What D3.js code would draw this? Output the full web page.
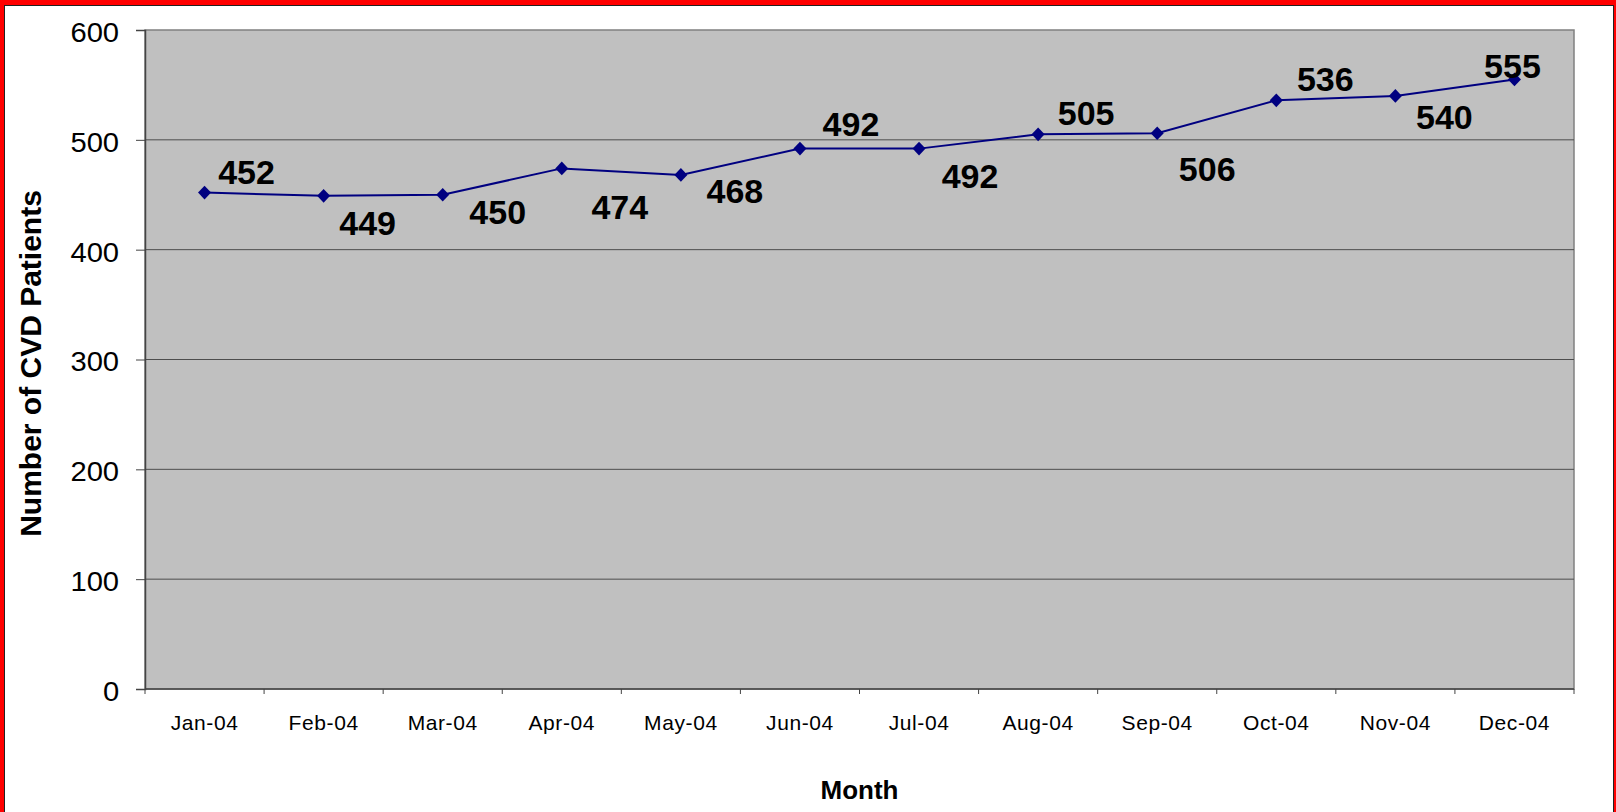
<!DOCTYPE html>
<html>
<head>
<meta charset="utf-8">
<script src="https://cdn.jsdelivr.net/npm/d3@7"></script>
<style>
  html, body { margin: 0; padding: 0; background: #ff0000; overflow: hidden; }
  svg { display: block; font-family: "Liberation Sans", Arial, sans-serif; }
</style>
</head>
<body>
<svg width="1616" height="812"></svg>
<script>
// monthly CVD patient counts, 2004
const months = ["Jan-04", "Feb-04", "Mar-04", "Apr-04", "May-04", "Jun-04",
                "Jul-04", "Aug-04", "Sep-04", "Oct-04", "Nov-04", "Dec-04"]
const patients = [452, 449, 450, 474, 468, 492, 492, 505, 506, 536, 540, 555]
const yTicks = [0, 100, 200, 300, 400, 500, 600]

// where each value label sits relative to its point (px)
const labelDx = [42, 44, 55, 58, 54, 51, 51, 48, 50, 49, 49, -2]
const labelDy = [-21, 27, 17, 38, 16, -25, 27, -22, 36, -22, 21, -14]

const svg = d3.select("svg")
const width = +svg.attr("width")
const height = +svg.attr("height")

// white card inside the red frame
svg.append("rect")
    .attr("x", 4.5).attr("y", 5.5)
    .attr("width", 1609).attr("height", height)
    .attr("fill", "white")
    .attr("stroke", "#222")
    .attr("stroke-width", 1)

const margin = {left: 145, right: 1574, top: 30, bottom: 689}

const x = d3.scaleBand()
    .domain(months)
    .range([margin.left, margin.right])

const y = d3.scaleLinear()
    .domain([0, 600])
    .range([margin.bottom, margin.top])

// plot area
svg.append("rect")
    .attr("x", margin.left).attr("y", margin.top)
    .attr("width", margin.right - margin.left)
    .attr("height", margin.bottom - margin.top)
    .attr("fill", "#c0c0c0")
    .attr("stroke", "#808080")
    .attr("stroke-width", 1.5)

// gridlines
svg.append("g")
    .selectAll("line")
    .data(yTicks.filter(d => d > 0 && d < 600))
    .join("line")
    .attr("x1", margin.left).attr("x2", margin.right)
    .attr("y1", d => y(d)).attr("y2", d => y(d))
    .attr("stroke", "#4d4d4d")
    .attr("stroke-width", 1)

// y axis
const yAxis = svg.append("g")
    .attr("transform", `translate(${margin.left},0)`)
    .call(d3.axisLeft(y).tickValues(yTicks).tickSize(9).tickPadding(13))
yAxis.select(".domain").attr("stroke", "#444").attr("stroke-width", 1.5)
yAxis.selectAll(".tick line").attr("stroke", "#444")
yAxis.selectAll("text")
    .attr("font-size", 27)
    .attr("fill", "#000")
    .attr("dy", "0.42em")
    .attr("transform", "scale(1.08,1)")
    .attr("x", -24)

// x axis: ticks on band edges
const xAxis = svg.append("g")
    .attr("transform", `translate(0,${margin.bottom})`)
xAxis.append("line")
    .attr("x1", margin.left).attr("x2", margin.right)
    .attr("stroke", "#444").attr("stroke-width", 1.5)
xAxis.selectAll(".edge")
    .data(d3.range(months.length + 1))
    .join("line")
    .attr("class", "edge")
    .attr("x1", i => margin.left + i * x.bandwidth())
    .attr("x2", i => margin.left + i * x.bandwidth())
    .attr("y1", 0).attr("y2", 5)
    .attr("stroke", "#444")
xAxis.selectAll(".lbl")
    .data(months)
    .join("text")
    .attr("class", "lbl")
    .attr("x", d => x(d) + x.bandwidth() / 2)
    .attr("y", 41)
    .attr("text-anchor", "middle")
    .attr("font-size", 21)
    .attr("letter-spacing", 0.6)
    .text(d => d)

// line
const line = d3.line()
    .x((d, i) => x(months[i]) + x.bandwidth() / 2)
    .y(d => y(d))

svg.append("path")
    .datum(patients)
    .attr("fill", "none")
    .attr("stroke", "#000080")
    .attr("stroke-width", 2)
    .attr("d", line)

svg.append("g")
    .selectAll("path")
    .data(patients)
    .join("path")
    .attr("d", d3.symbol(d3.symbolDiamond2, 120))
    .attr("transform", (d, i) => `translate(${x(months[i]) + x.bandwidth() / 2},${y(d)}) scale(0.95,1)`)
    .attr("fill", "#000080")

// value labels
svg.append("g")
    .selectAll("text")
    .data(patients)
    .join("text")
    .attr("x", (d, i) => x(months[i]) + x.bandwidth() / 2 + labelDx[i])
    .attr("y", (d, i) => y(d) + labelDy[i])
    .attr("dy", "0.36em")
    .attr("text-anchor", "middle")
    .attr("font-size", 34)
    .attr("font-weight", "bold")
    .text(d => d)

// axis titles
svg.append("text")
    .attr("x", (margin.left + margin.right) / 2)
    .attr("y", 799)
    .attr("text-anchor", "middle")
    .attr("font-size", 26)
    .attr("font-weight", "bold")
    .text("Month")

svg.append("text")
    .attr("transform", `translate(41,${(margin.top + margin.bottom) / 2 + 4}) rotate(-90)`)
    .attr("text-anchor", "middle")
    .attr("font-size", 30)
    .attr("font-weight", "bold")
    .text("Number of CVD Patients")
</script>
</body>
</html>
